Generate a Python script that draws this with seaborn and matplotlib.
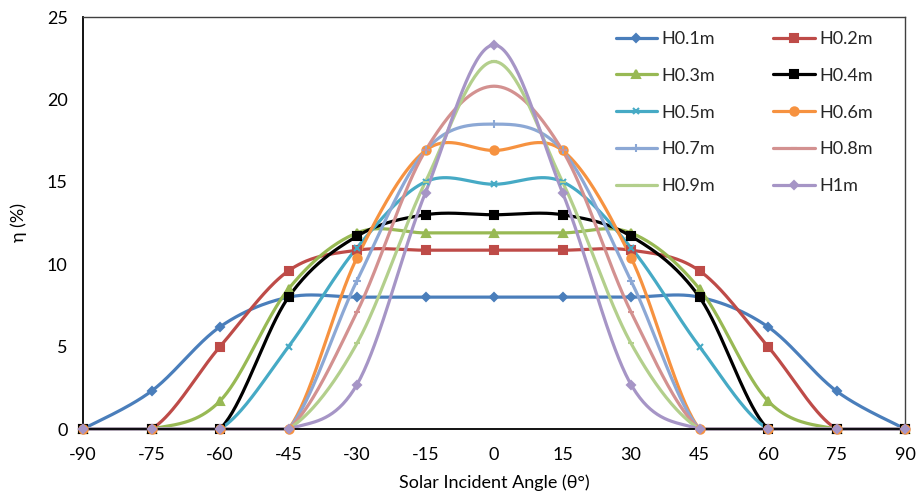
import numpy as np
import pandas as pd
import matplotlib
matplotlib.use("Agg")
import matplotlib.pyplot as plt
from matplotlib.lines import Line2D
import seaborn as sns

sns.set_theme(style="white")
plt.rcParams["font.family"] = ["Lato", "DejaVu Sans"]
plt.rcParams["axes.unicode_minus"] = False

angles = [-90, -75, -60, -45, -30, -15, 0, 15, 30, 45, 60, 75, 90]

h01 = [0, 2.3, 6.2, 8.0, 8.0, 8.0, 8.0, 8.0, 8.0, 8.0, 6.2, 2.3, 0]
h02 = [0, 0, 5.0, 9.6, 10.85, 10.85, 10.85, 10.85, 10.85, 9.6, 5.0, 0, 0]
h03 = [0, 0, 1.7, 8.5, 11.9, 11.9, 11.9, 11.9, 11.9, 8.5, 1.7, 0, 0]
h04 = [0, 0, 0, 8.0, 11.7, 13.0, 13.0, 13.0, 11.7, 8.0, 0, 0, 0]
h05 = [0, 0, 0, 5.0, 11.0, 15.0, 14.85, 15.0, 11.0, 5.0, 0, 0, 0]
h06 = [0, 0, 0, 0, 10.4, 16.9, 16.9, 16.9, 10.4, 0, 0, 0, 0]
h07 = [0, 0, 0, 0, 9.0, 16.9, 18.5, 16.9, 9.0, 0, 0, 0, 0]
h08 = [0, 0, 0, 0, 7.1, 16.9, 20.8, 16.9, 7.1, 0, 0, 0, 0]
h09 = [0, 0, 0, 0, 5.2, 15.0, 22.3, 15.0, 5.2, 0, 0, 0, 0]
h10 = [0, 0, 0, 0, 2.7, 14.35, 23.3, 14.35, 2.7, 0, 0, 0, 0]

labels = ["H0.1m", "H0.2m", "H0.3m", "H0.4m", "H0.5m",
          "H0.6m", "H0.7m", "H0.8m", "H0.9m", "H1m"]
series = [h01, h02, h03, h04, h05, h06, h07, h08, h09, h10]
colors = ["#4A7EBB", "#BE4B48", "#98B954", "#000000", "#46AAC5",
          "#F69240", "#8CA8D5", "#D39190", "#B3CF8C", "#A695C6"]
markers = ["D", "s", "^", "s", "x", "o", "+", "_", "_", "D"]
msizes = [4, 5.5, 5.5, 6, 5, 6, 6, 5, 5, 4]


def smooth(x, y, n=40):
    # excel style smoothed line (bezier, 1/6 tangents)
    x = np.asarray(x, float)
    y = np.asarray(y, float)
    px = np.concatenate([[x[0]], x, [x[-1]]])
    py = np.concatenate([[y[0]], y, [y[-1]]])
    t = np.linspace(0, 1, n)[:, None]
    out_x, out_y = [], []
    for i in range(1, len(px) - 2):
        c1x = px[i] + (px[i + 1] - px[i - 1]) / 6
        c1y = py[i] + (py[i + 1] - py[i - 1]) / 6
        c2x = px[i + 1] - (px[i + 2] - px[i]) / 6
        c2y = py[i + 1] - (py[i + 2] - py[i]) / 6
        bx = ((1 - t) ** 3 * px[i] + 3 * (1 - t) ** 2 * t * c1x
              + 3 * (1 - t) * t ** 2 * c2x + t ** 3 * px[i + 1])
        by = ((1 - t) ** 3 * py[i] + 3 * (1 - t) ** 2 * t * c1y
              + 3 * (1 - t) * t ** 2 * c2y + t ** 3 * py[i + 1])
        out_x.append(bx.ravel())
        out_y.append(by.ravel())
    return np.concatenate(out_x), np.maximum(np.concatenate(out_y), 0)


fig = plt.figure(figsize=(9.19, 4.97), dpi=100)
ax = fig.add_axes([83 / 919, 1 - 429 / 497, 822 / 919, 412 / 497])

for lab, vals, c, m, ms in zip(labels, series, colors, markers, msizes):
    sx, sy = smooth(angles, vals)
    sns.lineplot(x=sx, y=sy, ax=ax, color=c, lw=2.3, sort=False,
                 estimator=None, clip_on=False, legend=False)
    ax.plot(angles, vals, ls="none", marker=m, ms=ms, color=c,
            mec=c, mew=1.5, clip_on=False, zorder=3)

ax.set_xlim(-90, 90)
ax.set_ylim(0, 25)
ax.set_xticks(angles)
ax.set_yticks([0, 5, 10, 15, 20, 25])
ax.tick_params(axis="both", direction="out", length=5, width=1.2,
               color="black", labelsize=13, labelcolor="black", pad=6)
ax.tick_params(axis="x", pad=8)
for s in ["left", "bottom"]:
    ax.spines[s].set_color("black")
    ax.spines[s].set_linewidth(1.3)
for s in ["top", "right"]:
    ax.spines[s].set_color("#404040")
    ax.spines[s].set_linewidth(1.0)

ax.set_xlabel("Solar Incident Angle (θ°)", fontsize=13, color="black", labelpad=8)
ax.set_ylabel("η (%)", fontsize=13, color="black", labelpad=14)

handles = [Line2D([], [], color=c, lw=2.3, marker=m, ms=ms, mec=c, mew=1.5)
           for c, m, ms in zip(colors, markers, msizes)]
# legend fills column-wise, reorder so it reads row by row
order = [0, 2, 4, 6, 8, 1, 3, 5, 7, 9]
ax.legend([handles[i] for i in order], [labels[i] for i in order],
          loc="upper left", bbox_to_anchor=(0.648, 0.966),
          ncol=2, frameon=False, fontsize=13, handlelength=2.3,
          handletextpad=0.25, columnspacing=3.2, labelspacing=1.15,
          borderpad=0, borderaxespad=0)

fig.savefig("out.png", dpi=100)
